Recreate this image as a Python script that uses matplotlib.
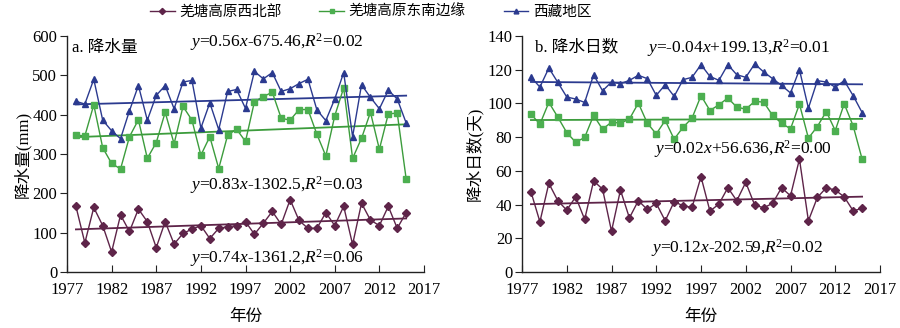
import numpy as np
import matplotlib
matplotlib.use("Agg")
import matplotlib.pyplot as plt
from matplotlib.lines import Line2D

plt.rcParams['font.family'] = ['Liberation Serif', 'Noto Sans CJK SC']
plt.rcParams['mathtext.fontset'] = 'custom'
plt.rcParams['mathtext.rm'] = 'Liberation Serif'
plt.rcParams['mathtext.it'] = 'Liberation Serif:italic'

years = list(range(1978, 2016))
series_names = ['羌塘高原西北部', '羌塘高原东南边缘', '西藏地区']

# a. precipitation (mm)
precip_nw = [167, 74, 164, 118, 51, 145, 103, 160, 128, 62, 128, 71, 98, 109, 118, 85, 111, 115, 118, 128,
             96, 124, 154, 121, 184, 131, 111, 111, 151, 118, 167, 70, 175, 132, 118, 167, 111, 151]
precip_se = [348, 346, 425, 316, 276, 262, 344, 387, 289, 329, 406, 326, 421, 386, 297, 344, 263, 348, 363, 332,
             433, 446, 457, 391, 386, 413, 413, 350, 295, 397, 468, 289, 340, 406, 312, 402, 404, 237]
precip_tb = [434, 427, 490, 386, 359, 339, 410, 474, 386, 449, 474, 415, 483, 487, 366, 430, 362, 459, 464, 416,
             510, 491, 507, 459, 466, 479, 490, 412, 385, 440, 507, 344, 476, 444, 415, 462, 440, 379]

# b. precipitation days
days_nw = [47.6, 29.8, 52.6, 42.3, 36.7, 44.6, 31.2, 54.0, 49.2, 24.2, 48.6, 32.1, 42.3, 37.1, 40.7, 30.4, 41.7, 39.3,
           38.3, 56.5, 36.1, 40.3, 50.0, 42.3, 53.2, 39.7, 38.1, 40.7, 50.0, 45.2, 67.0, 30.4, 44.2, 50.0, 48.6, 44.6,
           36.3, 37.7]
days_se = [93.7, 87.7, 100.6, 91.9, 82.7, 77.0, 79.8, 92.9, 84.7, 88.9, 88.3, 90.7, 100.2, 88.3, 81.9, 89.9, 78.8, 85.9,
           91.3, 104.6, 95.8, 99.2, 103.2, 97.8, 96.6, 101.2, 100.8, 92.9, 88.3, 84.9, 99.6, 79.4, 86.3, 95.2, 83.9, 99.8,
           86.7, 67.0]
days_tb = [115.7, 109.7, 121.0, 112.5, 103.8, 102.6, 100.6, 117.0, 107.5, 112.7, 111.7, 113.7, 116.7, 114.7, 104.8,
           111.1, 104.2, 114.1, 115.5, 123.0, 116.0, 113.7, 123.0, 117.0, 115.5, 123.4, 118.7, 114.7, 110.7, 106.2,
           120.0, 97.2, 113.5, 112.7, 109.7, 113.5, 104.6, 94.6]

eq_a = [r'$y$=0.56$x$-675.46,$R$$^{2}$=0.02', r'$y$=0.83$x$-1302.5,$R$$^{2}$=0.03', r'$y$=0.74$x$-1361.2,$R$$^{2}$=0.06']
eq_b = [r'$y$=-0.04$x$+199.13,$R$$^{2}$=0.01', r'$y$=0.02$x$+56.636,$R$$^{2}$=0.00', r'$y$=0.12$x$-202.59,$R$$^{2}$=0.02']

colors = ['#5e2449', '#3c9c3c', '#2b3a8f']
mcolors = ['#5e2449', '#4caf50', '#2b3a8f']
markers = ['D', 's', '^']
msizes = [4.2, 4.8, 4.6]

fig = plt.figure(figsize=(9, 3.28), dpi=100)
axa = fig.add_axes([67/900, 56/328, 357/900, 236/328])
axb = fig.add_axes([522/900, 56/328, 358/900, 236/328])

yrs = np.array(years)

def draw(ax, datas):
    for d, c, mc, m, ms in zip(datas, colors, mcolors, markers, msizes):
        ax.plot(yrs, d, color=c, lw=1.0, marker=m, ms=ms, mfc=mc, mec=mc, zorder=3)
        k, b = np.polyfit(yrs, np.array(d, float), 1)
        ax.plot([yrs[0], yrs[-1]], [k*yrs[0]+b, k*yrs[-1]+b], color=c, lw=1.3, zorder=2)
    ax.set_xlim(1977, 2017)
    ax.set_xticks(range(1977, 2018, 5))
    for s in ['top', 'right']:
        ax.spines[s].set_visible(False)
    for s in ['left', 'bottom']:
        ax.spines[s].set_linewidth(1.0)
        ax.spines[s].set_color('#222222')
    ax.tick_params(axis='x', direction='in', length=5, labelsize=12, pad=7, color='#222222')
    ax.tick_params(axis='y', direction='out', length=5, labelsize=12, pad=2, color='#222222')
    ax.set_xlabel('年份', fontsize=12, labelpad=8)

draw(axa, [precip_nw, precip_se, precip_tb])
axa.set_ylim(0, 600)
axa.set_yticks(range(0, 601, 100))
axa.set_ylabel('降水量(mm)', fontsize=12, labelpad=1)

draw(axb, [days_nw, days_se, days_tb])
axb.set_ylim(0, 140)
axb.set_yticks(range(0, 141, 20))
axb.set_ylabel('降水日数(天)', fontsize=12, labelpad=3)

axa.text(0.015, 0.985, 'a. 降水量', transform=axa.transAxes, fontsize=12, va='top', ha='left')
axb.text(0.035, 0.985, 'b. 降水日数', transform=axb.transAxes, fontsize=12, va='top', ha='left')

fs = 12.5
axa.text(0.345, 0.975, eq_a[0], transform=axa.transAxes, fontsize=fs, va='center', ha='left')
axa.text(0.345, 0.37, eq_a[1], transform=axa.transAxes, fontsize=fs, va='center', ha='left')
axa.text(0.345, 0.06, eq_a[2], transform=axa.transAxes, fontsize=fs, va='center', ha='left')
axb.text(0.35, 0.95, eq_b[0], transform=axb.transAxes, fontsize=fs, va='center', ha='left')
axb.text(0.37, 0.52, eq_b[1], transform=axb.transAxes, fontsize=fs, va='center', ha='left')
axb.text(0.36, 0.10, eq_b[2], transform=axb.transAxes, fontsize=fs, va='center', ha='left')

handles = [Line2D([0], [0], color=c, lw=1.0, marker=m, ms=ms*0.75, mfc=mc, mec=mc)
           for c, mc, m, ms in zip(colors, mcolors, markers, msizes)]
fig.legend(handles, series_names, loc='center left', bbox_to_anchor=(150/900, 1 - 12/328), ncol=3,
           frameon=False, fontsize=10.5, handlelength=1.7, handletextpad=0.3, columnspacing=2.6,
           borderpad=0, borderaxespad=0)

fig.savefig('out.png', dpi=100)
